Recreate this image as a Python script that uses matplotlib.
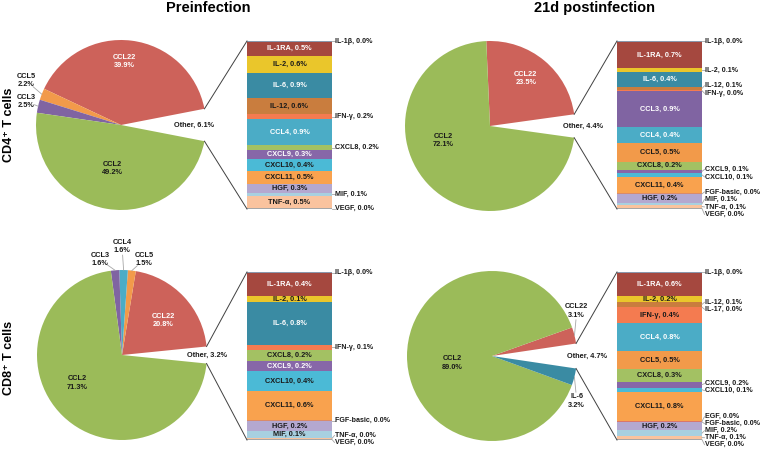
import numpy as np
import matplotlib.pyplot as plt

plt.rcParams['font.family'] = ['Liberation Sans', 'DejaVu Sans']

# Заголовки
col_titles = ['Preinfection', '21d postinfection']
row_titles = ['CD4⁺ T cells', 'CD8⁺ T cells']

# CD4+, до інфекції
cd4_pre_pie_names = ['Other', 'CCL22', 'CCL5', 'CCL3', 'CCL2']
cd4_pre_pie_vals = [6.1, 39.9, 2.2, 2.5, 49.2]
cd4_pre_bar_names = ['IL-1β', 'IL-1RA', 'IL-2', 'IL-6', 'IL-12', 'IFN-γ', 'CCL4', 'CXCL8',
                     'CXCL9', 'CXCL10', 'CXCL11', 'HGF', 'MIF', 'TNF-α', 'VEGF']
cd4_pre_bar_vals = [0.02, 0.52, 0.61, 0.94, 0.56, 0.21, 0.94, 0.18,
                    0.33, 0.44, 0.46, 0.33, 0.10, 0.47, 0.02]

# CD4+, 21 доба
cd4_post_pie_names = ['Other', 'CCL22', 'CCL2']
cd4_post_pie_vals = [4.4, 23.5, 72.1]
cd4_post_bar_names = ['IL-1β', 'IL-1RA', 'IL-2', 'IL-6', 'IL-12', 'IFN-γ', 'CCL3', 'CCL4', 'CCL5',
                      'CXCL8', 'CXCL9', 'CXCL10', 'CXCL11', 'FGF-basic', 'HGF', 'MIF', 'TNF-α', 'VEGF']
cd4_post_bar_vals = [0.02, 0.70, 0.10, 0.38, 0.10, 0.02, 0.94, 0.44, 0.48,
                     0.22, 0.08, 0.10, 0.44, 0.02, 0.22, 0.06, 0.09, 0.02]

# CD8+, до інфекції
cd8_pre_pie_names = ['Other', 'CCL22', 'CCL5', 'CCL4', 'CCL3', 'CCL2']
cd8_pre_pie_vals = [3.2, 20.8, 1.5, 1.6, 1.6, 71.3]
cd8_pre_bar_names = ['IL-1β', 'IL-1RA', 'IL-2', 'IL-6', 'IFN-γ', 'CXCL8', 'CXCL9', 'CXCL10',
                     'CXCL11', 'FGF-basic', 'HGF', 'MIF', 'TNF-α', 'VEGF']
cd8_pre_bar_vals = [0.02, 0.44, 0.11, 0.82, 0.11, 0.21, 0.19, 0.38,
                    0.56, 0.02, 0.19, 0.13, 0.02, 0.02]

# CD8+, 21 доба
cd8_post_pie_names = ['Other', 'CCL22', 'CCL2', 'IL-6']
cd8_post_pie_vals = [4.7, 3.1, 89.0, 3.2]
cd8_post_bar_names = ['IL-1β', 'IL-1RA', 'IL-2', 'IL-12', 'IL-17', 'IFN-γ', 'CCL4', 'CCL5', 'CXCL8',
                      'CXCL9', 'CXCL10', 'CXCL11', 'EGF', 'FGF-basic', 'HGF', 'MIF', 'TNF-α', 'VEGF']
cd8_post_bar_vals = [0.02, 0.64, 0.17, 0.13, 0.02, 0.42, 0.79, 0.50, 0.34,
                     0.16, 0.12, 0.80, 0.02, 0.02, 0.22, 0.16, 0.09, 0.02]

# Кольори цитокінів
colors = {
    'Other': 'white', 'CCL2': '#9BBB59', 'CCL22': '#CD625A', 'CCL3': '#8064A2',
    'CCL4': '#4BACC6', 'CCL5': '#F29A4A', 'IL-1β': '#8A97AC', 'IL-1RA': '#A5483F',
    'IL-2': '#EAC62B', 'IL-6': '#3A8BA3', 'IL-12': '#C97D3E', 'IL-17': '#8A97AC',
    'IFN-γ': '#F47B50', 'CXCL8': '#A3C163', 'CXCL9': '#8767A8', 'CXCL10': '#4BBAD6',
    'CXCL11': '#F9A24E', 'EGF': '#D9776A', 'FGF-basic': '#D98B6A', 'HGF': '#B4A8D0',
    'MIF': '#A8D0E0', 'TNF-α': '#FAC39E', 'VEGF': '#A6A6A6',
}
white_text = {'CCL22', 'IL-1RA', 'IL-6', 'CCL3', 'CCL4', 'CXCL9'}

W, H = 760, 449
R = 85
BAR_W, BAR_H = 85, 168
FS = 5.3
FS_OUT = 5.1

fig = plt.figure(figsize=(7.6, 4.49), dpi=100)
ax = fig.add_axes([0, 0, 1, 1])


def Y(y):
    # піксель зверху -> координата осі знизу
    return H - y


def spread(targets, gap):
    # розсуваємо підписи, щоб не перекривались
    clusters = [[t] for t in targets]
    changed = True
    while changed:
        changed = False
        for i in range(len(clusters) - 1):
            a, b = clusters[i], clusters[i + 1]
            end_a = np.mean(a) + (len(a) - 1) * gap / 2
            start_b = np.mean(b) - (len(b) - 1) * gap / 2
            if start_b - end_a < gap:
                clusters[i] = a + b
                del clusters[i + 1]
                changed = True
                break
    out = []
    for c in clusters:
        s = np.mean(c) - (len(c) - 1) * gap / 2
        out += [s + k * gap for k in range(len(c))]
    return out


def draw_panel(pie_names, pie_vals, bar_names, bar_vals, outside, pie_pos, other_dist,
               cx, cy, bx, by, gap):
    half = pie_vals[0] * 3.6 / 2
    wedges, _ = ax.pie(pie_vals, colors=[colors[n] for n in pie_names], startangle=-half,
                       center=(cx, Y(cy)), radius=R, wedgeprops=dict(linewidth=0))
    wedges[0].set_visible(False)

    # підписи пирога
    for i, (name, val) in enumerate(zip(pie_names, pie_vals)):
        if i == 0:
            ax.text(cx + other_dist * R, Y(cy), f'Other, {val:.1f}%', ha='center', va='center',
                    fontsize=FS, fontweight='bold', color='#1a1a1a')
            continue
        ang, r = pie_pos[name]
        a = np.radians(ang)
        tx, ty = cx + r * R * np.cos(a), Y(cy) + r * R * np.sin(a)
        col = 'white' if (name in white_text and r < 1) else '#1a1a1a'
        ax.text(tx, ty, f'{name}\n{val:.1f}%', ha='center', va='center', fontsize=FS,
                fontweight='bold', color=col, linespacing=1.25)
        if r > 1:
            w = wedges[i]
            mid = np.radians((w.theta1 + w.theta2) / 2)
            ex, ey = cx + R * np.cos(mid), Y(cy) + R * np.sin(mid)
            d = np.array([ex - tx, ey - ty])
            d = d / np.hypot(*d)
            ax.plot([ex, tx + d[0] * 9], [ey, ty + d[1] * 9], color='#a6a6a6', lw=0.6)

    # стовпчик
    total = sum(bar_vals)
    heights = np.array(bar_vals) * BAR_H / total
    tops = Y(by) - np.concatenate([[0], np.cumsum(heights)[:-1]])
    bottoms = tops - heights
    ax.bar([bx + BAR_W / 2] * len(heights), heights, bottom=bottoms, width=BAR_W,
           color=[colors[n] for n in bar_names], linewidth=0)

    # з'єднувальні лінії
    a = np.radians(half)
    ex = cx + R * np.cos(a)
    ax.plot([ex, bx], [Y(cy) + R * np.sin(a), Y(by)], color='#404040', lw=0.7)
    ax.plot([ex, bx], [Y(cy) - R * np.sin(a), Y(by) - BAR_H], color='#404040', lw=0.7)

    centers = (tops + bottoms) / 2
    out_idx = [i for i, n in enumerate(bar_names) if n in outside]
    lab_y = spread([-centers[i] for i in out_idx], gap)
    for k, i in enumerate(out_idx):
        ly = -lab_y[k]
        x0 = bx + BAR_W
        ax.plot([x0, x0 + 2.5], [centers[i], ly], color='#a6a6a6', lw=0.6)
        ax.text(x0 + 3, ly, f'{bar_names[i]}, {bar_vals[i]:.1f}%', ha='left', va='center',
                fontsize=FS_OUT, fontweight='bold', color='#1a1a1a')
    for i, n in enumerate(bar_names):
        if n in outside:
            continue
        col = 'white' if n in white_text else '#1a1a1a'
        ax.text(bx + BAR_W / 2, centers[i], f'{n}, {bar_vals[i]:.1f}%', ha='center', va='center',
                fontsize=FS, fontweight='bold', color=col)


draw_panel(cd4_pre_pie_names, cd4_pre_pie_vals, cd4_pre_bar_names, cd4_pre_bar_vals,
           {'IL-1β', 'IFN-γ', 'CXCL8', 'MIF', 'VEGF'},
           {'CCL22': (87, 0.75), 'CCL2': (259, 0.52), 'CCL5': (155, 1.23), 'CCL3': (166, 1.15)},
           0.86, 121, 125, 247, 41, 7.5)
draw_panel(cd4_post_pie_names, cd4_post_pie_vals, cd4_post_bar_names, cd4_post_bar_vals,
           {'IL-1β', 'IL-2', 'IL-12', 'IFN-γ', 'CXCL9', 'CXCL10', 'FGF-basic', 'MIF', 'TNF-α', 'VEGF'},
           {'CCL22': (53, 0.70), 'CCL2': (197, 0.58)},
           1.1, 490, 126, 617, 41, 7.5)
draw_panel(cd8_pre_pie_names, cd8_pre_pie_vals, cd8_pre_bar_names, cd8_pre_bar_vals,
           {'IL-1β', 'IFN-γ', 'FGF-basic', 'TNF-α', 'VEGF'},
           {'CCL22': (40, 0.63), 'CCL2': (212, 0.62), 'CCL3': (103, 1.15),
            'CCL4': (90, 1.28), 'CCL5': (77, 1.15)},
           1.0, 122, 355, 247, 272, 7.0)
draw_panel(cd8_post_pie_names, cd8_post_pie_vals, cd8_post_bar_names, cd8_post_bar_vals,
           {'IL-1β', 'IL-12', 'IL-17', 'CXCL9', 'CXCL10', 'EGF', 'FGF-basic', 'MIF', 'TNF-α', 'VEGF'},
           {'CCL2': (190, 0.47), 'CCL22': (28, 1.13), 'IL-6': (-28, 1.13)},
           1.12, 492, 356, 617, 272, 7.0)

ax.text(208, Y(8), col_titles[0], ha='center', va='center', fontsize=10.5, fontweight='bold')
ax.text(594, Y(8), col_titles[1], ha='center', va='center', fontsize=10.5, fontweight='bold')
ax.text(9, Y(125), row_titles[0], ha='center', va='center', rotation=90, fontsize=9, fontweight='bold')
ax.text(9, Y(358), row_titles[1], ha='center', va='center', rotation=90, fontsize=9, fontweight='bold')

ax.set_xlim(0, W)
ax.set_ylim(0, H)
ax.set_aspect('equal')
ax.axis('off')

plt.savefig('out.png', dpi=100)
